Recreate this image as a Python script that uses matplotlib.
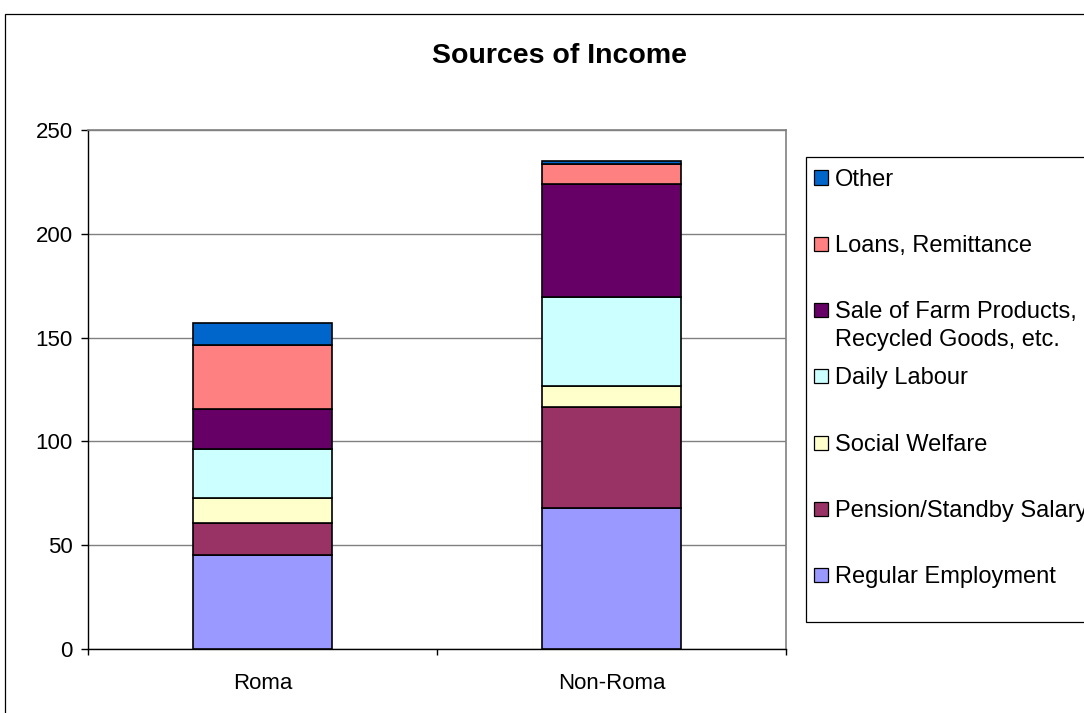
import matplotlib
matplotlib.use("Agg")
import matplotlib.pyplot as plt
from matplotlib.patches import Rectangle
import numpy as np

plt.rcParams['font.family'] = ['Liberation Sans', 'DejaVu Sans']

groups = ["Roma", "Non-Roma"]
series = ["Regular Employment", "Pension/Standby Salary", "Social Welfare",
          "Daily Labour", "Sale of Farm Products,\nRecycled Goods, etc.",
          "Loans, Remittance", "Other"]
values = {
    "Regular Employment": [45.5, 68],
    "Pension/Standby Salary": [15, 48.5],
    "Social Welfare": [12, 10],
    "Daily Labour": [24, 43],
    "Sale of Farm Products,\nRecycled Goods, etc.": [19, 54.5],
    "Loans, Remittance": [31, 9.5],
    "Other": [10.5, 1.5],
}
colors = ["#9999FF", "#993366", "#FFFFCC", "#CCFFFF", "#660066", "#FF8080", "#0066CC"]

W, H = 1084, 713
fig = plt.figure(figsize=(W / 100, H / 100), dpi=100)

# outer chart border (clipped at the right and bottom edge of the picture)
fig.add_artist(Rectangle((5 / W, -0.2), 1.5, (H - 14) / H + 0.2, transform=fig.transFigure,
                         fill=False, edgecolor="black", linewidth=0.9))

ax = fig.add_axes([88 / W, (H - 649) / H, (786 - 88) / W, (649 - 130) / H])

x = np.arange(len(groups))
bottom = np.zeros(len(groups))
for name, col in zip(series, colors):
    v = np.array(values[name])
    ax.bar(x, v, width=0.4, bottom=bottom, color=col, edgecolor="black", linewidth=1.2, zorder=3)
    bottom += v

ax.set_xlim(-0.5, 1.5)
ax.set_ylim(0, 250)
ax.set_yticks(range(0, 251, 50))
ax.yaxis.grid(True, color="#808080", linewidth=1.0, zorder=0)
ax.tick_params(axis="y", length=5, width=1, pad=6, labelsize=16, direction="out")

ax.set_xticks([-0.5, 0.5, 1.5])
ax.set_xticklabels([])
ax.set_xticks(x, minor=True)
ax.set_xticklabels(groups, minor=True)
ax.tick_params(axis="x", which="major", length=4, width=1, direction="out")
ax.tick_params(axis="x", which="minor", length=0, pad=17, labelsize=16)

for s in ["top", "right"]:
    ax.spines[s].set_color("#808080")
    ax.spines[s].set_linewidth(1.2)
for s in ["left", "bottom"]:
    ax.spines[s].set_color("black")
    ax.spines[s].set_linewidth(1.0)

fig.text(559 / W, 1 - 56 / H, "Sources of Income", ha="center", va="center",
         fontsize=20.5, fontweight="bold")

# legend, laid out the way the spreadsheet does it
lx, ltop, lbot = 806, 157, 622
fig.add_artist(Rectangle((lx / W, 1 - lbot / H), 1.0, (lbot - ltop) / H, transform=fig.transFigure,
                         facecolor="white", edgecolor="black", linewidth=0.9))
y0, step, line_gap = 177.5, 66.3, 28
for i, (name, col) in enumerate(zip(series[::-1], colors[::-1])):
    yc = y0 + i * step
    fig.add_artist(Rectangle((814 / W, 1 - (yc + 7) / H), 14 / W, 14 / H, transform=fig.transFigure,
                             facecolor=col, edgecolor="black", linewidth=0.9))
    for k, line in enumerate(name.split("\n")):
        fig.text(835 / W, 1 - (yc + 8 + k * line_gap) / H, line, ha="left", va="baseline", fontsize=17)

fig.savefig("out.png", dpi=100)
